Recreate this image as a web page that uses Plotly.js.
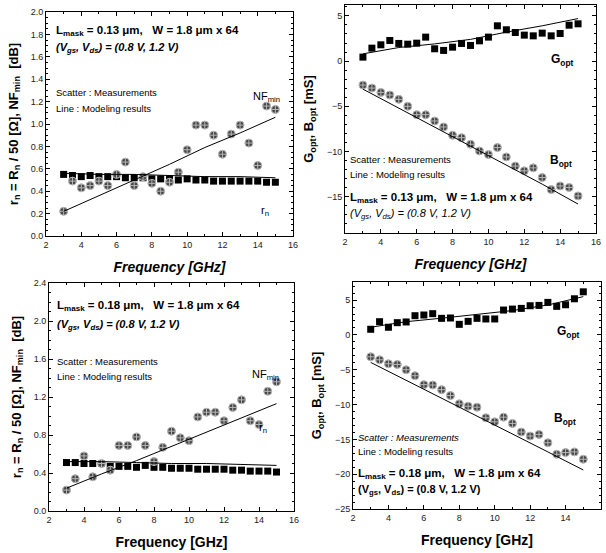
<!DOCTYPE html>
<html>
<head>
<meta charset="utf-8">
<script src="https://cdn.plot.ly/plotly-3.0.1.min.js"></script>
<style>html,body{margin:0;padding:0;background:#fff;}#chart{width:606px;height:553px;}</style>
</head>
<body>
<div id="chart"></div>
<script>
// Measured frequencies (GHz)
const freq = [3,3.5,4,4.5,5,5.5,6,6.5,7,7.5,8,8.5,9,9.5,10,10.5,11,11.5,12,12.5,13,13.5,14,14.5,15];
// Model curve frequencies (GHz)
const modelFreq = [3,5,7,9,11,13,15];

// Panel 1: Lmask = 0.13 um
const nfMin013 = [0.22,0.49,0.43,0.45,0.49,0.45,0.55,0.66,0.45,0.53,0.47,0.40,0.48,0.57,0.77,0.99,0.99,0.90,0.73,0.91,0.99,0.83,0.63,1.16,1.13];
const rn013 = [0.55,0.54,0.53,0.54,0.53,0.53,0.53,0.52,0.52,0.52,0.51,0.51,0.51,0.50,0.51,0.50,0.50,0.49,0.49,0.49,0.49,0.49,0.49,0.48,0.48];
const nfMinModel013 = [0.22,0.36,0.50,0.64,0.79,0.92,1.06];
const rnModel013 = [0.56,0.55,0.55,0.54,0.53,0.53,0.52];

// Panel 2: Lmask = 0.13 um
const gOpt013 = [0.44,1.43,1.80,2.28,1.95,1.87,1.98,2.65,1.36,1.18,1.54,1.95,1.73,2.24,2.65,3.90,3.46,3.16,2.87,2.79,3.09,2.79,3.05,3.97,4.12];
const bOpt013 = [-2.65,-2.98,-3.46,-3.75,-4.23,-5.00,-5.92,-5.92,-6.62,-7.28,-8.20,-8.46,-9.19,-9.93,-10.33,-9.56,-10.59,-11.60,-12.13,-11.80,-12.87,-14.20,-13.80,-13.97,-14.90];
const gOptModel013 = [0.8,1.5,1.9,2.4,3.2,3.9,4.7];
const bOptModel013 = [-3.1,-5.2,-7.3,-9.4,-11.5,-13.6,-15.8];

// Panel 3: Lmask = 0.18 um
const nfMin018 = [0.22,0.34,0.58,0.36,0.50,0.43,0.69,0.69,0.78,0.69,0.52,0.67,0.84,0.77,0.74,0.99,1.04,1.04,0.95,1.09,1.17,0.95,0.91,1.26,1.36];
const rn018 = [0.51,0.51,0.50,0.50,0.50,0.47,0.47,0.47,0.46,0.48,0.46,0.46,0.45,0.45,0.45,0.44,0.44,0.44,0.44,0.43,0.43,0.42,0.42,0.42,0.41];
const nfMinModel018 = [0.24,0.39,0.53,0.68,0.83,0.98,1.13];
const rnModel018 = [0.52,0.52,0.51,0.50,0.50,0.49,0.48];

// Panel 4: Lmask = 0.18 um
const gOpt018 = [0.81,1.90,1.10,1.76,1.86,2.76,2.86,3.05,2.38,2.43,1.52,1.95,2.38,2.29,2.29,3.57,3.71,3.81,4.19,4.24,4.67,4.10,4.33,5.19,6.19];
const bOpt018 = [-3.14,-3.57,-4.14,-4.24,-5.00,-5.86,-7.14,-7.19,-7.86,-8.71,-9.90,-10.24,-10.38,-11.90,-12.48,-11.81,-12.71,-13.95,-14.52,-14.29,-15.48,-17.14,-16.90,-16.80,-17.86];
const gOptModel018 = [1.1,1.9,2.4,2.9,3.5,4.3,5.5];
const bOptModel018 = [-3.95,-6.5,-9.1,-11.7,-14.2,-16.8,-19.4];

const W = 606, H = 553;
const px = v => v / W;
const py = v => 1 - v / H;
const FONT = 'Liberation Sans, Arial, sans-serif';

const circ = {symbol: 'circle-cross', size: 8, color: '#474747', line: {color: '#b8b8b8', width: 1}};
const sq = {symbol: 'square', size: 7, color: '#000', line: {width: 0}};
const ln = {color: '#000', width: 1};

function sc(x, y, m, xa, ya) { return {x: x, y: y, type: 'scatter', mode: 'markers', marker: m, xaxis: xa, yaxis: ya, showlegend: false, hoverinfo: 'x+y'}; }
function lt(x, y, xa, ya) { return {x: x, y: y, type: 'scatter', mode: 'lines', line: ln, xaxis: xa, yaxis: ya, showlegend: false}; }

const data = [
  sc(freq, rn013, sq, 'x', 'y'), sc(freq, nfMin013, circ, 'x', 'y'),
  lt(modelFreq, rnModel013, 'x', 'y'), lt(modelFreq, nfMinModel013, 'x', 'y'),
  sc(freq, gOpt013, sq, 'x2', 'y2'), sc(freq, bOpt013, circ, 'x2', 'y2'),
  lt(modelFreq, gOptModel013, 'x2', 'y2'), lt(modelFreq, bOptModel013, 'x2', 'y2'),
  sc(freq, rn018, sq, 'x3', 'y3'), sc(freq, nfMin018, circ, 'x3', 'y3'),
  lt(modelFreq, rnModel018, 'x3', 'y3'), lt(modelFreq, nfMinModel018, 'x3', 'y3'),
  sc(freq, gOpt018, sq, 'x4', 'y4'), sc(freq, bOpt018, circ, 'x4', 'y4'),
  lt(modelFreq, gOptModel018, 'x4', 'y4'), lt(modelFreq, bOptModel018, 'x4', 'y4')
];

function xax(dom, anchor, italic, standoff) {
  return {
    domain: dom, anchor: anchor, range: [2, 16], dtick: 2, tick0: 2,
    showline: true, mirror: 'ticks', linecolor: '#000', linewidth: 1,
    ticks: 'inside', ticklen: 4, tickcolor: '#000',
    minor: {ticks: 'inside', ticklen: 2, dtick: 1, tickcolor: '#000'},
    showgrid: false, zeroline: false,
    tickfont: {family: FONT, size: 9, color: '#222'},
    title: {text: italic ? '<b><i>Frequency [GHz]</i></b>' : '<b>Frequency [GHz]</b>', font: {family: FONT, size: 14, color: '#000'}, standoff: standoff},
    automargin: false
  };
}
function yax(dom, anchor, range, dtick, fmt, title, standoff) {
  return {
    domain: dom, anchor: anchor, range: range, dtick: dtick,
    showline: true, mirror: 'ticks', linecolor: '#000', linewidth: 1,
    ticks: 'inside', ticklen: 4, tickcolor: '#000',
    minor: {ticks: 'inside', ticklen: 2, tickcolor: '#000'},
    showgrid: false, zeroline: false, tickformat: fmt,
    tickfont: {family: FONT, size: 9, color: '#222'},
    title: {text: title, font: {family: FONT, size: 13, color: '#000'}, standoff: standoff},
    automargin: false
  };
}

const yTitleNF = '<b>r<sub>n</sub> = R<sub>n</sub> / 50 [Ω], NF<sub>min</sub>  [dB]</b>';
const yTitleG = '<b>G<sub>opt</sub>, B<sub>opt</sub> [mS]</b>';

function ann(x, y, text, size, opts) {
  return Object.assign({xref: 'paper', yref: 'paper', x: px(x), y: py(y), text: text, showarrow: false,
    xanchor: 'left', yanchor: 'middle', font: {family: FONT, size: size, color: '#000'}}, opts || {});
}

const annotations = [
  // Panel 1
  ann(54, 31, '<b>L<sub>mask</sub> = 0.13 μm,   W = 1.8 μm x 64</b>', 11.5),
  ann(54, 48, '<b><i>(V<sub>gs</sub>, V<sub>ds</sub>) = (0.8 V, 1.2 V)</i></b>', 11),
  ann(54, 93, 'Scatter : Measurements', 9.5),
  ann(54, 108, 'Line : Modeling results', 9.5),
  ann(251, 97, 'NF<sub>min</sub>', 11),
  ann(259, 211, 'r<sub>n</sub>', 11),
  // Panel 2
  ann(549, 60, '<b>G<sub>opt</sub></b>', 12),
  ann(548, 161, '<b>B<sub>opt</sub></b>', 12),
  ann(348, 160, 'Scatter : Measurements', 9.5),
  ann(348, 174, 'Line : Modeling results', 9.5),
  ann(348, 198, '<b>L<sub>mask</sub> = 0.13 μm,   W = 1.8 μm x 64</b>', 11.5),
  ann(348, 214, '<i>(V<sub>gs</sub>, V<sub>ds</sub>) = (0.8 V, 1.2 V)</i>', 11),
  // Panel 3
  ann(55, 306, '<b>L<sub>mask</sub> = 0.18 μm,   W = 1.8 μm x 64</b>', 11.5),
  ann(55, 325, '<b><i>(V<sub>gs</sub>, V<sub>ds</sub>) = (0.8 V, 1.2 V)</i></b>', 11),
  ann(55, 361, 'Scatter : Measurements', 9.5),
  ann(55, 376, 'Line : Modeling results', 9.5),
  ann(250, 375, 'NF<sub>min</sub>', 11),
  ann(257, 428, 'r<sub>n</sub>', 11),
  // Panel 4
  ann(555, 332, '<b>G<sub>opt</sub></b>', 12),
  ann(552, 419, '<b>B<sub>opt</sub></b>', 12),
  ann(356, 437, '<i>Scatter : Measurements</i>', 9.5),
  ann(356, 451, 'Line : Modeling results', 9.5),
  ann(356, 474, '<b>L<sub>mask</sub> = 0.18 μm,   W = 1.8 μm x 64</b>', 11.5),
  ann(356, 490, '<b>(V<sub>gs</sub>, V<sub>ds</sub>) = (0.8 V, 1.2 V)</b>', 11)
];

const layout = {
  width: W, height: H,
  margin: {l: 0, r: 0, t: 0, b: 0},
  paper_bgcolor: '#fff', plot_bgcolor: '#fff',
  font: {family: FONT, color: '#000'},
  showlegend: false,
  xaxis: xax([px(46), px(293)], 'y', true, 13),
  yaxis: yax([py(236), py(12)], 'x', [0, 2.0], 0.2, '.1f', yTitleNF, 9),
  xaxis2: xax([px(345), px(596)], 'y2', true, 13),
  yaxis2: yax([py(233), py(5)], 'x2', [-19, 6.2], 5, '', yTitleG, 10),
  xaxis3: xax([px(49), px(294)], 'y3', false, 13),
  yaxis3: yax([py(511), py(283)], 'x3', [0, 2.4], 0.4, '.1f', yTitleNF, 9),
  xaxis4: xax([px(353), px(601)], 'y4', false, 13),
  yaxis4: yax([py(509), py(282)], 'x4', [-25, 7.6], 5, '', yTitleG, 10),
  annotations: annotations
};

Plotly.newPlot('chart', data, layout, {displayModeBar: false, staticPlot: true});
</script>
</body>
</html>
